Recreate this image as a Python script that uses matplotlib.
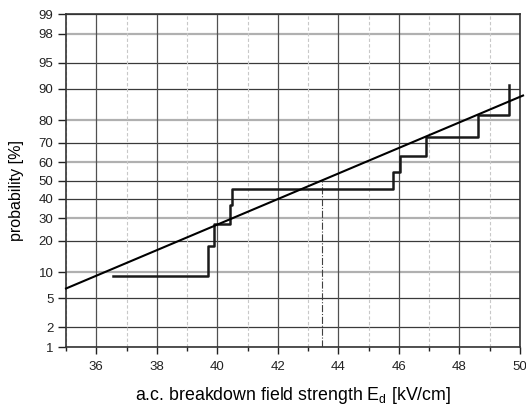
import numpy as np
import matplotlib
matplotlib.use("Agg")
import matplotlib.pyplot as plt
from statistics import NormalDist

# ---- data ----
breakdown_E = [36.56, 39.70, 39.89, 40.42, 40.50, 45.79, 46.03, 46.91, 48.62, 49.63]
rank_prob = [9.09, 18.18, 27.27, 36.36, 45.45, 54.55, 63.64, 72.73, 81.82, 90.91]
fit_mean = 43.45
fit_sigma = 5.6
fit_x = [35.0, 50.1]
y_ticks = [1, 2, 5, 10, 20, 30, 40, 50, 60, 70, 80, 90, 95, 98, 99]
y_light = [98, 80, 60, 30, 10]
x_major = [36, 38, 40, 42, 44, 46, 48, 50]
x_minor = [35, 37, 39, 41, 43, 45, 47, 49]

plt.rcParams['font.family'] = ['Liberation Sans', 'DejaVu Sans']

_nd = NormalDist()

def _ppf(p):
    if not np.isfinite(p):
        return np.nan
    return _nd.inv_cdf(min(max(p, 1e-9), 1 - 1e-9))

def _cdf(z):
    if not np.isfinite(z):
        return np.nan
    return _nd.cdf(z)

_vppf = np.vectorize(_ppf, otypes=[float])
_vcdf = np.vectorize(_cdf, otypes=[float])

def fwd(p):
    return _vppf(np.asarray(p, dtype=float) / 100.0)

def inv(z):
    return _vcdf(np.asarray(z, dtype=float)) * 100.0

fig = plt.figure(figsize=(5.26, 4.05), dpi=100)
ax = fig.add_axes([0.1255, 0.1432, 0.8631, 0.8222])
ax.set_yscale('function', functions=(fwd, inv))
ax.set_xlim(35, 50)
ax.set_ylim(1, 99)

# grid
for yv in y_ticks:
    if yv in y_light:
        ax.axhline(yv, color='#b0b0b0', lw=1.6, zorder=1)
    else:
        ax.axhline(yv, color='#3a3a3a', lw=0.9, zorder=1)
for xv in x_major:
    ax.axvline(xv, color='#505050', lw=0.9, zorder=1)
for xv in x_minor:
    ax.axvline(xv, color='#c8c8c8', lw=0.8, ls=(0, (3, 2)), zorder=1)

# empirical staircase
ax.plot(breakdown_E, rank_prob, drawstyle='steps-post', color='#1a1a1a', lw=1.8, zorder=3)

# fit line
fit_p = [float(inv((x - fit_mean) / fit_sigma)) for x in fit_x]
ax.plot(fit_x, fit_p, color='black', lw=1.5, zorder=4, clip_on=False)

# dash-dot at median
ax.plot([fit_mean, fit_mean], [1, 50], color='#404040', lw=0.8, ls='-.', zorder=2)

ax.set_yticks(y_ticks)
ax.set_yticklabels([str(v) for v in y_ticks])
ax.yaxis.set_minor_locator(matplotlib.ticker.NullLocator())
ax.set_xticks(x_major)
ax.set_xticks(x_minor, minor=True)
ax.tick_params(axis='x', which='major', direction='out', length=5, width=1, pad=5,
               labelsize=9.5, colors='#222222')
ax.tick_params(axis='y', which='major', direction='out', length=6, width=1, pad=3,
               labelsize=9.5, colors='#222222')
ax.tick_params(axis='x', which='minor', direction='out', length=3, width=1, colors='#222222')
for s in ax.spines.values():
    s.set_linewidth(1.2)
    s.set_color('#333333')

ax.set_xlabel('a.c. breakdown field strength E$_\\mathregular{d}$ [kV/cm]', fontsize=12.8, labelpad=9)
ax.set_ylabel('probability [%]', fontsize=11.5)
ax.yaxis.set_label_coords(-0.092, 0.47)

fig.savefig('out.png', dpi=100)
